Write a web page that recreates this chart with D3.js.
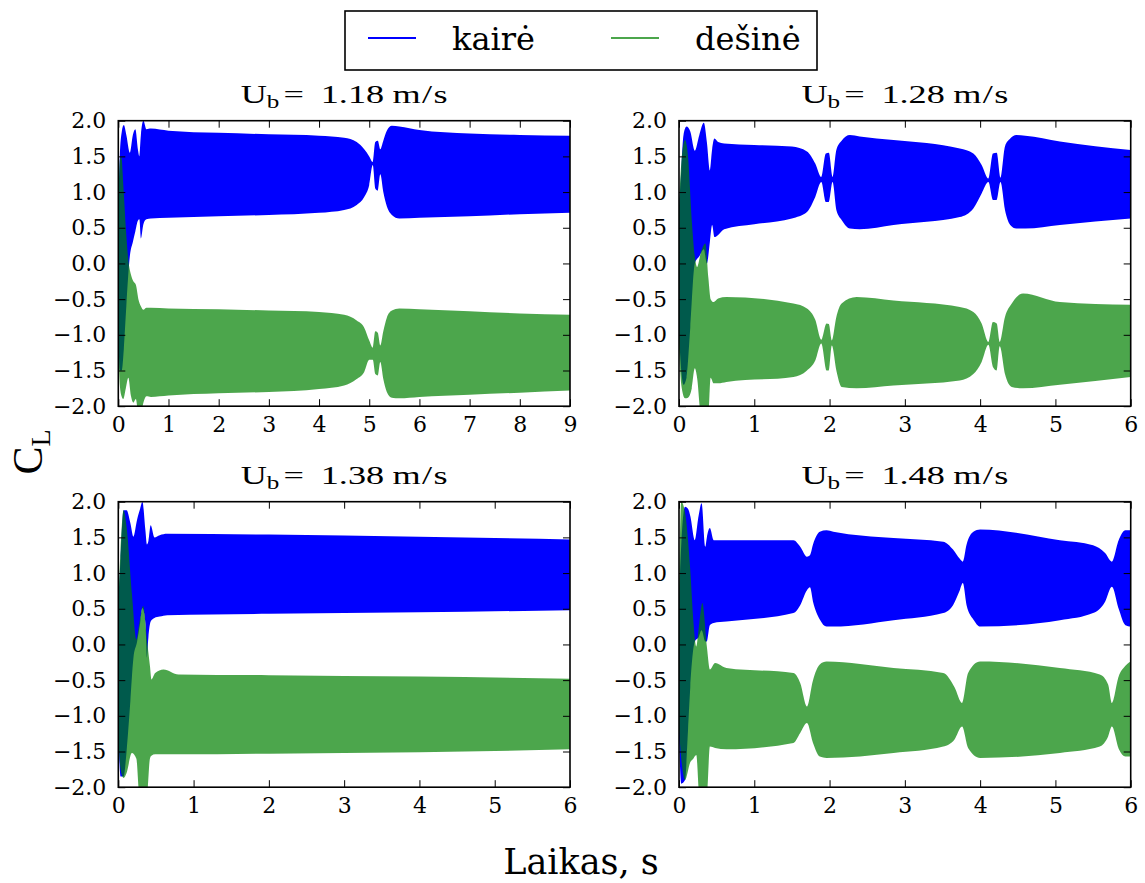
<!DOCTYPE html>
<html><head><meta charset="utf-8">
<script src="https://cdn.jsdelivr.net/npm/d3@7"></script>
<style>
body{margin:0;background:#fff;}
svg{display:block;}
.tick text{font-family:"DejaVu Serif";font-size:22px;fill:#000;}
</style></head>
<body><svg id="c" width="1145" height="883"></svg>
<script>
// ---- data: [time, upper envelope, lower envelope] ----
const seriesNames = ["kairė", "dešinė"];
const speeds = ["1.18", "1.28", "1.38", "1.48"];
const xMax = [9, 6, 6, 6];
const yTicks = [-2, -1.5, -1, -0.5, 0, 0.5, 1, 1.5, 2];

const p1Kaire = [[0.00,0.8,-0.9],[0.03,1.5,-1.5],[0.07,1.85,-1.5],[0.11,1.94,-1.2],[0.16,1.8,-0.6],[0.23,1.55,0.1],[0.29,1.8,0.3],[0.34,1.88,0.45],[0.39,1.6,0.6],[0.42,1.5,0.62],[0.45,1.8,0.35],[0.50,2.0,0.55],[0.56,1.88,0.62],[0.65,1.89,0.63],[1.0,1.86,0.64],[2.0,1.83,0.66],[3.0,1.81,0.68],[4.0,1.79,0.71],[4.5,1.76,0.75],[4.75,1.70,0.82],[4.9,1.60,0.93],[5.0,1.50,1.10],[5.07,1.42,1.38],[5.12,1.70,1.05],[5.17,1.72,1.02],[5.22,1.60,1.25],[5.28,1.72,1.00],[5.35,1.86,0.80],[5.45,1.93,0.68],[5.6,1.92,0.63],[6.0,1.87,0.64],[7.0,1.82,0.66],[8.0,1.80,0.69],[9.0,1.79,0.71]];
const p1Desine = [[0.00,0.5,-1.2],[0.03,1.45,-1.7],[0.06,1.5,-1.85],[0.10,1.1,-1.9],[0.15,0.5,-1.75],[0.20,0.05,-1.6],[0.25,-0.15,-1.85],[0.30,-0.25,-1.95],[0.35,-0.3,-1.9],[0.40,-0.5,-2.1],[0.45,-0.6,-2.1],[0.50,-0.65,-1.95],[0.56,-0.62,-1.86],[0.65,-0.62,-1.87],[1.0,-0.63,-1.85],[2.0,-0.64,-1.82],[3.0,-0.66,-1.80],[4.0,-0.68,-1.76],[4.5,-0.72,-1.71],[4.75,-0.80,-1.62],[4.9,-0.90,-1.52],[5.0,-1.08,-1.35],[5.07,-1.18,-1.35],[5.12,-0.95,-1.55],[5.17,-0.97,-1.57],[5.22,-1.15,-1.38],[5.28,-0.95,-1.62],[5.35,-0.76,-1.80],[5.45,-0.66,-1.88],[5.6,-0.63,-1.89],[6.0,-0.64,-1.87],[7.0,-0.67,-1.84],[8.0,-0.70,-1.81],[9.0,-0.72,-1.78]];

const p2Kaire = [[0.00,0.8,-1.0],[0.03,1.3,-1.5],[0.06,1.8,-1.7],[0.10,1.92,-1.6],[0.15,1.85,-0.9],[0.21,1.58,0.0],[0.27,1.8,0.1],[0.33,1.97,0.2],[0.37,1.7,0.0],[0.41,1.3,0.3],[0.44,1.6,0.54],[0.47,1.75,0.37],[0.52,1.7,0.4],[0.6,1.68,0.48],[1.0,1.66,0.55],[1.5,1.64,0.63],[1.7,1.57,0.72],[1.81,1.40,0.93],[1.89,1.21,1.14],[1.95,1.54,0.86],[1.99,1.55,0.86],[2.04,1.21,1.14],[2.09,1.59,0.75],[2.16,1.72,0.61],[2.27,1.80,0.49],[2.4,1.78,0.48],[2.85,1.73,0.54],[3.73,1.61,0.65],[3.91,1.54,0.77],[4.02,1.38,0.98],[4.11,1.19,1.14],[4.17,1.54,0.89],[4.22,1.55,0.89],[4.27,1.20,1.14],[4.33,1.64,0.75],[4.40,1.75,0.54],[4.48,1.80,0.49],[4.6,1.79,0.49],[5.06,1.71,0.54],[6.0,1.59,0.63]];
const p2Desine = [[0.00,0.8,-1.2],[0.03,1.4,-1.7],[0.08,1.73,-1.89],[0.12,1.5,-1.88],[0.17,0.6,-1.75],[0.21,0.1,-1.47],[0.24,-0.05,-1.6],[0.29,0.15,-2.1],[0.35,0.28,-2.1],[0.39,-0.2,-2.1],[0.42,-0.5,-1.6],[0.46,-0.54,-1.68],[0.52,-0.49,-1.68],[0.63,-0.47,-1.66],[1.52,-0.56,-1.59],[1.70,-0.63,-1.50],[1.81,-0.79,-1.36],[1.89,-1.07,-1.12],[1.96,-0.84,-1.50],[1.99,-0.85,-1.50],[2.03,-1.08,-1.15],[2.09,-0.75,-1.50],[2.16,-0.56,-1.73],[2.36,-0.47,-1.75],[2.85,-0.52,-1.71],[3.73,-0.61,-1.64],[3.91,-0.68,-1.55],[4.02,-0.84,-1.38],[4.11,-1.10,-1.14],[4.17,-0.82,-1.45],[4.22,-0.84,-1.50],[4.26,-1.10,-1.16],[4.33,-0.75,-1.55],[4.42,-0.56,-1.73],[4.57,-0.42,-1.75],[5.06,-0.54,-1.70],[6.0,-0.58,-1.59]];

const p3Kaire = [[0.00,0.6,-1.2],[0.03,1.2,-1.85],[0.07,1.88,-1.85],[0.11,1.88,-1.5],[0.16,1.7,-0.8],[0.20,1.51,-0.2],[0.25,1.75,0.04],[0.29,1.9,0.3],[0.32,2.0,0.51],[0.36,1.6,0.3],[0.38,1.4,-0.19],[0.40,1.45,0.1],[0.43,1.67,0.32],[0.48,1.5,0.37],[0.55,1.53,0.39],[0.65,1.55,0.41],[2.0,1.54,0.43],[4.0,1.51,0.45],[6.0,1.47,0.48]];
const p3Desine = [[0.00,0.6,-1.3],[0.03,1.32,-1.75],[0.07,1.88,-1.87],[0.11,1.65,-1.8],[0.18,0.72,-1.52],[0.24,0.07,-1.6],[0.28,0.3,-2.1],[0.33,0.54,-2.1],[0.38,0.07,-2.1],[0.42,-0.3,-1.6],[0.44,-0.49,-1.56],[0.49,-0.4,-1.54],[0.60,-0.35,-1.54],[0.8,-0.42,-1.54],[2.0,-0.43,-1.53],[4.0,-0.45,-1.51],[6.0,-0.48,-1.47]];

const p4Kaire = [[0.00,0.6,-1.3],[0.03,1.4,-1.95],[0.08,1.93,-1.9],[0.12,1.9,-1.2],[0.15,1.8,-0.6],[0.21,1.46,0.04],[0.26,1.8,0.1],[0.30,1.98,0.2],[0.35,1.37,0.04],[0.37,1.5,0.04],[0.41,1.63,0.27],[0.46,1.46,0.3],[0.63,1.46,0.32],[1.52,1.46,0.44],[1.61,1.37,0.55],[1.70,1.23,0.76],[1.74,1.25,0.80],[1.78,1.40,0.60],[1.87,1.58,0.35],[1.96,1.60,0.25],[2.05,1.58,0.25],[2.85,1.49,0.34],[3.51,1.44,0.44],[3.64,1.33,0.55],[3.73,1.20,0.76],[3.77,1.16,0.86],[3.82,1.40,0.55],[3.91,1.58,0.35],[4.0,1.61,0.25],[5.06,1.46,0.34],[5.5,1.39,0.44],[5.66,1.28,0.60],[5.75,1.16,0.81],[5.84,1.46,0.50],[5.93,1.60,0.27],[6.0,1.60,0.25]];
const p4Desine = [[0.00,0.8,-1.2],[0.03,2.0,-1.6],[0.08,1.85,-1.9],[0.15,1.04,-1.65],[0.19,0.34,-1.6],[0.23,-0.03,-1.55],[0.27,0.3,-2.1],[0.31,0.58,-2.1],[0.37,-0.03,-2.1],[0.41,-0.35,-1.43],[0.48,-0.26,-1.45],[0.63,-0.33,-1.47],[1.52,-0.40,-1.38],[1.61,-0.54,-1.24],[1.70,-0.87,-1.10],[1.78,-0.50,-1.38],[1.87,-0.28,-1.57],[1.96,-0.24,-1.59],[2.85,-0.33,-1.52],[3.51,-0.40,-1.43],[3.66,-0.60,-1.33],[3.76,-0.82,-1.15],[3.84,-0.40,-1.45],[4.0,-0.24,-1.59],[5.06,-0.33,-1.52],[5.59,-0.42,-1.43],[5.70,-0.56,-1.29],[5.75,-0.82,-1.15],[5.84,-0.45,-1.46],[5.93,-0.30,-1.57],[6.0,-0.24,-1.57]];

const panelData = [[p1Kaire, p1Desine], [p2Kaire, p2Desine], [p3Kaire, p3Desine], [p4Kaire, p4Desine]];
const colors = ["#0000ff", "#008000"];
const opac = [1, 0.7];

// ---- layout ----
const svg = d3.select("#c");
const axW = 451.7, axH = 285.5;
const origins = [[118.3,120.7],[679,120.7],[118.3,501.7],[679,501.7]];
const fmt = d => (d < 0 ? "\u2212" : "") + Math.abs(d).toFixed(1);

panelData.forEach((pd, i) => {
  const [ox, oy] = origins[i];
  const g = svg.append("g").attr("transform", `translate(${ox},${oy})`);
  const x = d3.scaleLinear().domain([0, xMax[i]]).range([0, axW]);
  const y = d3.scaleLinear().domain([-2, 2]).range([axH, 0]);
  const cid = "clip" + i;
  g.append("clipPath").attr("id", cid).append("rect").attr("width", axW).attr("height", axH);
  const area = d3.area().curve(d3.curveMonotoneX).x(d => x(d[0])).y0(d => y(d[2])).y1(d => y(d[1]));
  const pg = g.append("g").attr("clip-path", `url(#${cid})`);
  pd.forEach((s, k) => {
    pg.append("path").datum(s).attr("d", area)
      .attr("fill", colors[k]).attr("fill-opacity", opac[k]).attr("stroke", "none");
  });
  const xt = d3.range(0, xMax[i] + 1);
  g.append("g").attr("transform", `translate(0,${axH})`)
    .call(d3.axisBottom(x).tickValues(xt).tickFormat(d3.format("d")).tickSize(-7).tickPadding(10))
    .call(a => a.select(".domain").remove());
  g.append("g")
    .call(d3.axisTop(x).tickValues(xt).tickFormat("").tickSize(-7))
    .call(a => a.select(".domain").remove());
  g.append("g")
    .call(d3.axisLeft(y).tickValues(yTicks).tickFormat(fmt).tickSize(-7).tickPadding(12))
    .call(a => a.select(".domain").remove());
  g.append("g").attr("transform", `translate(${axW},0)`)
    .call(d3.axisRight(y).tickValues(yTicks).tickFormat("").tickSize(-7))
    .call(a => a.select(".domain").remove());
  g.selectAll(".tick line").attr("stroke", "#000").attr("stroke-width", 1);
  g.append("rect").attr("width", axW).attr("height", axH)
    .attr("fill", "none").attr("stroke", "#000").attr("stroke-width", 1.6);
  // title (mathtext-like)
  const tg = g.append("g");
  const t = tg.append("text").attr("x", 0).attr("y", 0)
    .attr("text-anchor", "middle").attr("font-family", "Liberation Serif").attr("font-size", 26);
  t.append("tspan").text("U");
  t.append("tspan").attr("font-size", 18).attr("dy", 5).text("b");
  t.append("tspan").attr("dy", -5).attr("dx", 3).text("=");
  t.append("tspan").attr("dx", 12).text(speeds[i]);
  t.append("tspan").attr("dx", 6).text("m");
  t.append("tspan").attr("dx", 1).text("/");
  t.append("tspan").attr("dx", 1).text("s");
  const bw = t.node().getBBox().width;
  tg.attr("transform", `translate(${axW / 2},-18) scale(${207 / bw},1)`);
});

// axis labels
const yl = svg.append("text").attr("transform", "translate(42,452) rotate(-90)")
  .attr("text-anchor", "middle").attr("font-family", "Liberation Serif").attr("font-size", 42);
yl.append("tspan").text("C");
yl.append("tspan").attr("font-size", 28).attr("dy", 8).text("L");
svg.append("text").attr("x", 581).attr("y", 874).attr("text-anchor", "middle")
  .attr("font-family", "DejaVu Serif").attr("font-size", 35).text("Laikas, s");

// legend
const lg = svg.append("g");
lg.append("rect").attr("x", 345).attr("y", 11).attr("width", 472).attr("height", 59)
  .attr("fill", "#fff").attr("stroke", "#000").attr("stroke-width", 1.6);
const legX = [[368, 452], [611, 695]];
seriesNames.forEach((n, k) => {
  lg.append("line").attr("x1", legX[k][0]).attr("x2", legX[k][0] + 48).attr("y1", 38).attr("y2", 38)
    .attr("stroke", colors[k]).attr("stroke-opacity", opac[k]).attr("stroke-width", 2);
  lg.append("text").attr("x", legX[k][1]).attr("y", 50).attr("font-family", "DejaVu Serif")
    .attr("font-size", 32).text(n);
});
</script></body></html>
